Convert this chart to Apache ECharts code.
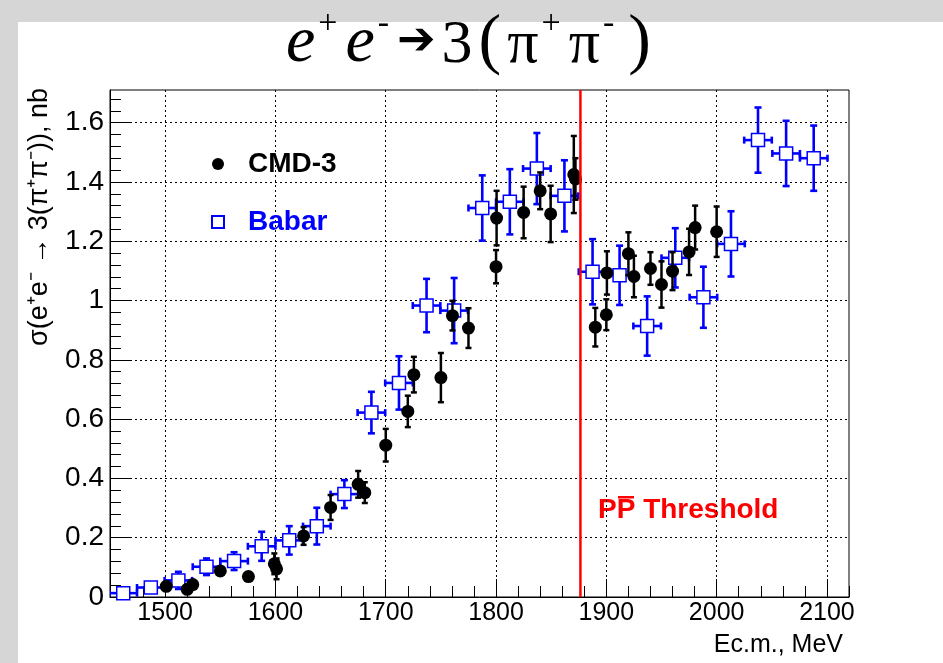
<!DOCTYPE html>
<html><head><meta charset="utf-8">
<script src="https://cdn.jsdelivr.net/npm/echarts@6/dist/echarts.min.js"></script>
<style>html,body{margin:0;padding:0;background:#d6d6d6}#c{width:943px;height:663px}</style>
</head><body><div id="c"></div><script>
// ---- data ----
const babarX    = [1462, 1487, 1512, 1537.5, 1562.5, 1587.5, 1612.5, 1637.5, 1662.5, 1687, 1712, 1737, 1762, 1787.5, 1812.5, 1837, 1862, 1887.5, 1912, 1937, 1962.5, 1988, 2013, 2037.5, 2063, 2088];
const babarY    = [0.013, 0.032, 0.056, 0.102, 0.121, 0.171, 0.191, 0.239, 0.347, 0.622, 0.722, 0.983, 0.966, 1.312, 1.333, 1.445, 1.353, 1.097, 1.085, 0.914, 1.144, 1.011, 1.191, 1.541, 1.496, 1.480];
const babarYErr = [0.010, 0.015, 0.029, 0.028, 0.030, 0.049, 0.048, 0.062, 0.047, 0.070, 0.090, 0.090, 0.110, 0.110, 0.110, 0.120, 0.120, 0.110, 0.100, 0.100, 0.100, 0.103, 0.110, 0.110, 0.110, 0.110];
const babarXErr = [12.5, 12.5, 12.5, 12.5, 12.5, 12.5, 12.5, 12.5, 12.5, 12.5, 12.5, 12.5, 12.5, 12.5, 12.5, 12.5, 12.5, 12.5, 12.5, 12.5, 12.5, 12.5, 12.5, 12.5, 12.5, 12.5];

const cmdX    = [1501, 1520, 1525, 1550, 1575.5, 1599, 1601, 1625.5, 1650, 1675, 1681, 1700, 1720, 1725.5, 1750, 1760.5, 1775, 1800, 1800.5, 1825, 1840, 1849.5, 1870.5, 1872, 1890, 1900, 1900.5, 1920, 1925, 1940, 1950, 1960, 1975, 1980.5, 2000];
const cmdY    = [0.036, 0.026, 0.042, 0.088, 0.069, 0.112, 0.095, 0.206, 0.302, 0.380, 0.352, 0.512, 0.626, 0.750, 0.740, 0.949, 0.907, 1.114, 1.278, 1.297, 1.370, 1.292, 1.425, 1.410, 0.910, 0.952, 1.093, 1.158, 1.081, 1.108, 1.054, 1.099, 1.164, 1.246, 1.232];
const cmdYErr = [0.010, 0.010, 0.010, 0.012, 0.012, 0.035, 0.035, 0.030, 0.042, 0.045, 0.035, 0.055, 0.053, 0.060, 0.083, 0.050, 0.067, 0.056, 0.092, 0.087, 0.062, 0.095, 0.130, 0.070, 0.065, 0.052, 0.073, 0.072, 0.070, 0.055, 0.078, 0.064, 0.078, 0.074, 0.085];

const thresholdX = 1876.5;
const xRange = [1450, 2120];
const yRange = [0, 1.71];
const xMajorTicks = [1500, 1600, 1700, 1800, 1900, 2000, 2100];
const yMajorTicks = [0, 0.2, 0.4, 0.6, 0.8, 1, 1.2, 1.4, 1.6];
const xMinorStep = 20, yMinorStep = 0.04;

// ---- build ----
const xMinorTicks = [];
for (let v = 1460; v <= xRange[1]; v += xMinorStep) if (v % 100 !== 0) xMinorTicks.push(v);
const yMinorTicks = [];
for (let k = 1; k * yMinorStep <= yRange[1]; k++) if (k % 5 !== 0) yMinorTicks.push(+(k * yMinorStep).toFixed(2));

const FONT = 'Liberation Sans';

function errRender(color, cap, lw) {
  return function (params, api) {
    const x = api.value(0), y = api.value(1), ey = api.value(2), ex = api.value(3);
    const c = api.coord([x, y]);
    const t = api.coord([x, y + ey]);
    const b = api.coord([x, y - ey]);
    const st = { stroke: color, lineWidth: lw };
    const ch = [
      { type: 'line', shape: { x1: c[0], y1: t[1], x2: c[0], y2: b[1] }, style: st },
      { type: 'line', shape: { x1: c[0] - cap, y1: t[1], x2: c[0] + cap, y2: t[1] }, style: st },
      { type: 'line', shape: { x1: c[0] - cap, y1: b[1], x2: c[0] + cap, y2: b[1] }, style: st }
    ];
    if (ex > 0) {
      const l = api.coord([x - ex, y]), r = api.coord([x + ex, y]);
      ch.push({ type: 'line', shape: { x1: l[0], y1: c[1], x2: r[0], y2: c[1] }, style: st });
      ch.push({ type: 'line', shape: { x1: l[0], y1: c[1] - cap, x2: l[0], y2: c[1] + cap }, style: st });
      ch.push({ type: 'line', shape: { x1: r[0], y1: c[1] - cap, x2: r[0], y2: c[1] + cap }, style: st });
    }
    return { type: 'group', children: ch };
  };
}

const gridLine = { show: true, lineStyle: { color: '#000', width: 1, type: [2, 3] } };
const chart = echarts.init(document.getElementById('c'), null, { renderer: 'canvas' });
chart.setOption({
  animation: false,
  backgroundColor: '#d6d6d6',
  graphic: [
    { type: 'rect', left: 18, top: 22, shape: { width: 925, height: 641 }, style: { fill: '#fff' }, z: -10, silent: true },
    { type: 'text', left: 598, top: 496, style: { text: 'PP Threshold', fill: '#ff0000', font: 'bold 28px "Liberation Sans"' } },
    { type: 'rect', left: 618, top: 496, shape: { width: 16, height: 2.5 }, style: { fill: '#ff0000' } },
    { type: 'text', right: 100, top: 633, style: { text: 'Ec.m., MeV', fill: '#000', font: '25px "Liberation Sans"' } },
    { type: 'text', x: 40, y: 88, rotation: Math.PI / 2,
      style: { text: 'σ(e⁺e⁻ → 3(π⁺π⁻)), nb', fill: '#000', font: '27px "Liberation Sans"', align: 'right', verticalAlign: 'middle' } }
  ],
  title: {
    left: 'center', top: 2,
    text: '{e|e}{s|+}{e|e}{s|-}{a|➔}{n|3}{p|(}{n|π}{s|+}{n|π}{s|-}{p|)}',
    textStyle: {
      rich: {
        e: { fontFamily: 'Liberation Serif', fontStyle: 'italic', fontWeight: 'normal', fontSize: 66, color: '#000', lineHeight: 70, verticalAlign: 'bottom' },
        s: { fontFamily: 'Liberation Serif', fontWeight: 'normal', fontSize: 34, color: '#000', verticalAlign: 'top', lineHeight: 70, padding: [0, 8, 0, 3] },
        a: { fontFamily: 'DejaVu Sans', fontWeight: 'bold', fontSize: 46, color: '#000', lineHeight: 70, verticalAlign: 'middle', padding: [0, 6, 0, 0] },
        n: { fontFamily: 'Liberation Serif', fontWeight: 'normal', fontSize: 62, color: '#000', lineHeight: 70, verticalAlign: 'bottom' },
        p: { fontFamily: 'Liberation Serif', fontWeight: 'normal', fontSize: 68, color: '#000', lineHeight: 70, verticalAlign: 'bottom', padding: [0, 6, 0, 6] }
      }
    }
  },
  legend: {
    orient: 'vertical', left: 211, top: 150, itemWidth: 12, itemHeight: 12, itemGap: 30, padding: 0,
    selectedMode: false,
    data: [
      { name: 'CMD-3', textStyle: { color: '#000' } },
      { name: 'Babar', textStyle: { color: '#0000ff' } }
    ],
    formatter: n => '{g|}' + n,
    textStyle: { fontFamily: FONT, fontSize: 28, fontWeight: 'bold', rich: { g: { width: 19 } } }
  },
  grid: { left: 110, right: 94, top: 90, bottom: 66, show: true, borderColor: '#000', borderWidth: 1, containLabel: false },
  xAxis: [
    { type: 'value', min: xRange[0], max: xRange[1], position: 'bottom',
      axisLine: { show: true, onZero: false, lineStyle: { color: '#000', width: 1 } },
      axisTick: { show: true, inside: true, length: 18, customValues: xMajorTicks, lineStyle: { color: '#000', width: 1 } },
      axisLabel: { customValues: xMajorTicks, formatter: v => String(v), fontFamily: FONT, fontSize: 25, color: '#000', margin: 4 },
      splitLine: gridLine },
    { type: 'value', min: xRange[0], max: xRange[1], position: 'bottom',
      axisLine: { show: false },
      axisTick: { show: true, inside: true, length: 11, customValues: xMinorTicks, lineStyle: { color: '#000', width: 1 } },
      axisLabel: { show: false }, splitLine: { show: false } }
  ],
  yAxis: [
    { type: 'value', min: yRange[0], max: yRange[1], position: 'left',
      axisLine: { show: true, onZero: false, lineStyle: { color: '#000', width: 1 } },
      axisTick: { show: true, inside: true, length: 22, customValues: yMajorTicks, lineStyle: { color: '#000', width: 1 } },
      axisLabel: { customValues: yMajorTicks, formatter: v => String(v), fontFamily: FONT, fontSize: 28, color: '#000', margin: 6 },
      splitLine: gridLine },
    { type: 'value', min: yRange[0], max: yRange[1], position: 'left',
      axisLine: { show: false },
      axisTick: { show: true, inside: true, length: 11, customValues: yMinorTicks, lineStyle: { color: '#000', width: 1 } },
      axisLabel: { show: false }, splitLine: { show: false } }
  ],
  series: [
    { type: 'custom', name: 'Babar err', clip: true, z: 2, silent: true,
      renderItem: errRender('#0000ff', 3.5, 2.6),
      data: babarX.map((x, i) => [x, babarY[i], babarYErr[i], babarXErr[i]]) },
    { type: 'scatter', name: 'Babar', z: 3, symbol: 'rect', symbolSize: 13, silent: true,
      itemStyle: { color: '#fff', borderColor: '#0000ff', borderWidth: 1.5, opacity: 1 },
      data: babarX.map((x, i) => [x, babarY[i]]) },
    { type: 'custom', name: 'CMD-3 err', clip: true, z: 4, silent: true,
      renderItem: errRender('#000', 3, 2.5),
      data: cmdX.map((x, i) => [x, cmdY[i], cmdYErr[i], 0]) },
    { type: 'scatter', name: 'CMD-3', z: 5, symbol: 'circle', symbolSize: 13, silent: true,
      itemStyle: { color: '#000', opacity: 1 },
      data: cmdX.map((x, i) => [x, cmdY[i]]) },
    { type: 'line', name: 'threshold', z: 6, symbol: 'none', silent: true,
      lineStyle: { color: '#ff0000', width: 2.5 },
      data: [[thresholdX, yRange[0]], [thresholdX, yRange[1]]] }
  ]
});
</script></body></html>
